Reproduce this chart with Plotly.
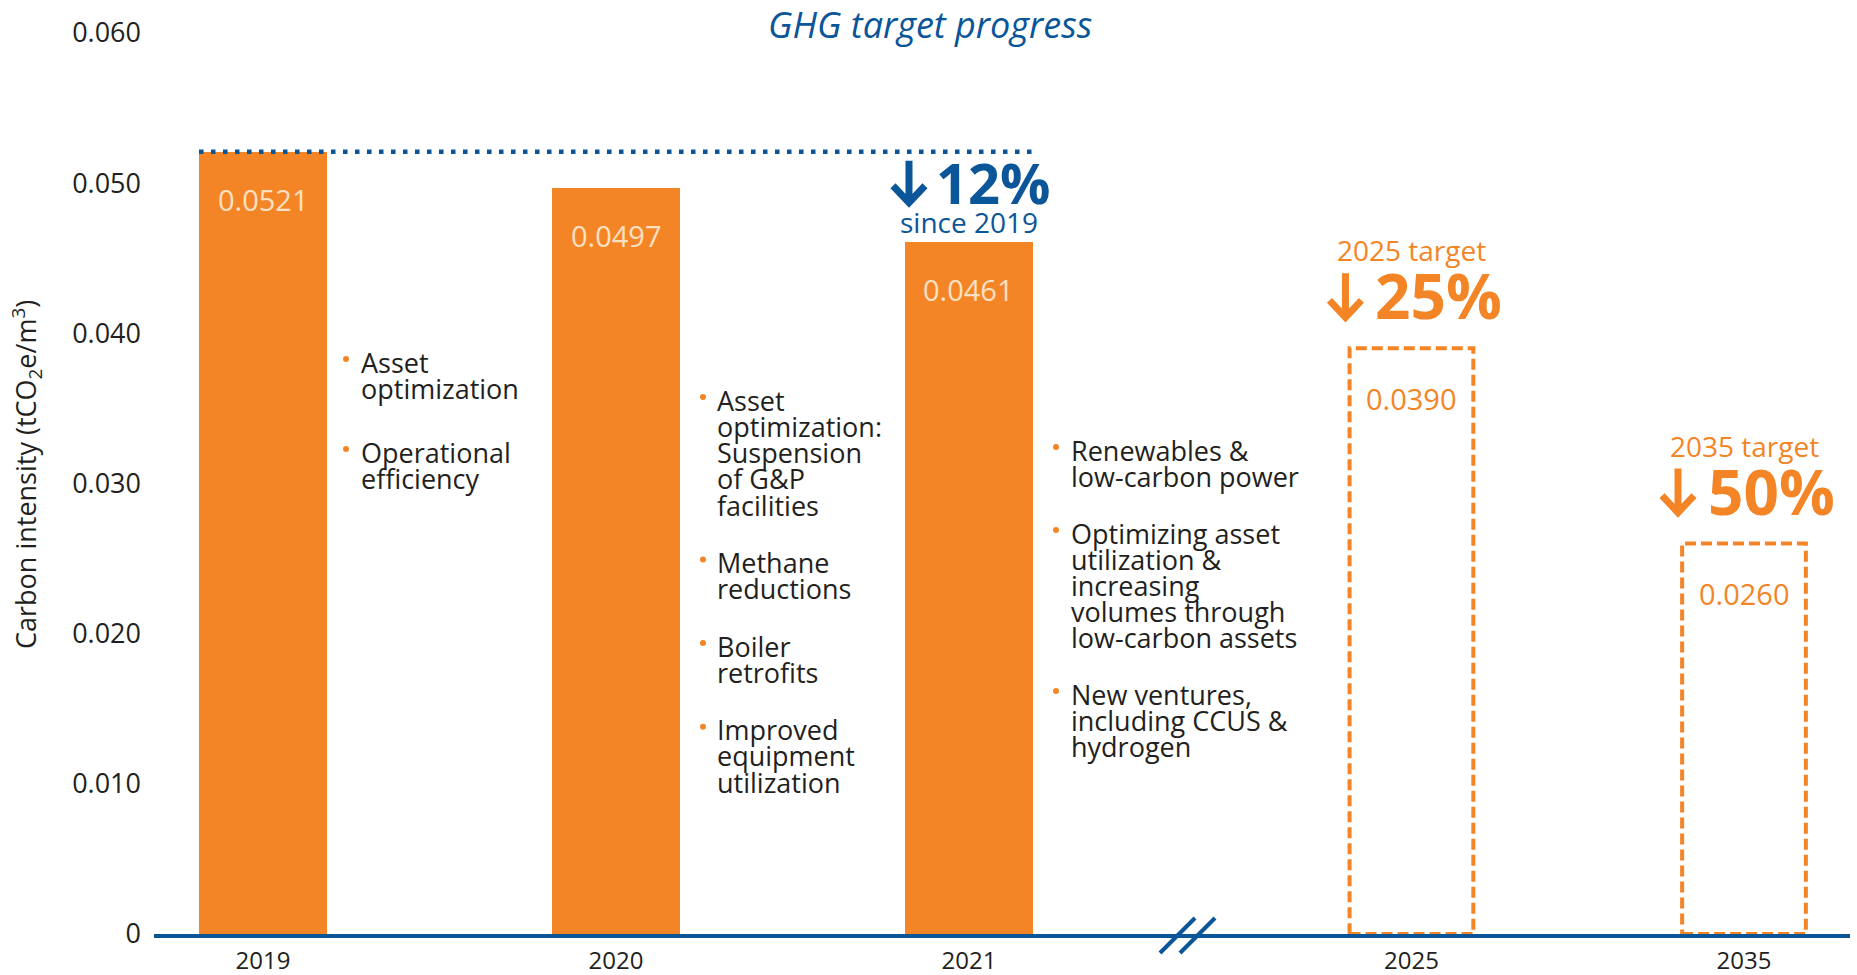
import plotly.graph_objects as go

# ---------------- data ----------------
actual_years = ["2019", "2020", "2021"]
actual_values = [0.0521, 0.0497, 0.0461]
target_years = ["2025", "2035"]
target_values = [0.0390, 0.0260]
baseline_value = 0.0521
y_tick_values = [0, 0.010, 0.020, 0.030, 0.040, 0.050, 0.060]
y_tick_labels = ["0", "0.010", "0.020", "0.030", "0.040", "0.050", "0.060"]
progress_label = "12%"
progress_note = "since 2019"
target_labels = ["2025 target", "2035 target"]
target_reductions = ["25%", "50%"]
bullets_2019 = [["Asset", "optimization"], ["Operational", "efficiency"]]
bullets_2020 = [["Asset", "optimization:", "Suspension", "of G&P", "facilities"],
                ["Methane", "reductions"],
                ["Boiler", "retrofits"],
                ["Improved", "equipment", "utilization"]]
bullets_future = [["Renewables &", "low-carbon power"],
                  ["Optimizing asset", "utilization &", "increasing", "volumes through", "low-carbon assets"],
                  ["New ventures,", "including CCUS &", "hydrogen"]]
title_text = "GHG target progress"
y_title = "Carbon intensity (tCO<sub>2</sub>e/m<sup>3</sup>)"

# ---------------- layout / style ----------------
W, H = 1857, 975
L, R, T, B = 154, 7, 33, 41
PW, PH = W - L - R, H - T - B
ORANGE = "#F38526"
BLUE = "#0B5599"
TEXT = "#231F20"
PEACH = "#FCE0C2"
FONT = "Open Sans"
X_POS = {"2019": 0.0, "2020": 1.0, "2021": 2.0, "2025": 3.2535, "2035": 4.1955}
BAR_W = 0.3626
X_RANGE = [-0.3088, 4.4958]


def px(x):
    return (x - L) / PW


def py(y):
    return (H - B - y) / PH


fig = go.Figure()
fig.add_trace(go.Bar(
    x=[X_POS[y] for y in actual_years], y=actual_values, width=BAR_W,
    marker=dict(color=ORANGE, line=dict(width=0)), hoverinfo="x+y", showlegend=False))

shapes = []
annotations = []

# target boxes (dashed outline)
for yr, v in zip(target_years, target_values):
    shapes.append(dict(type="rect", xref="x", yref="y",
                       x0=X_POS[yr] - BAR_W / 2 + 0.006, x1=X_POS[yr] + BAR_W / 2 - 0.006,
                       y0=0, y1=v, line=dict(color=ORANGE, width=4, dash="11px,5px"),
                       fillcolor="rgba(0,0,0,0)", layer="above"))

# baseline dotted line
shapes.append(dict(type="line", xref="x", yref="y",
                   x0=X_POS["2019"] - BAR_W / 2, x1=X_POS["2021"] + BAR_W / 2,
                   y0=baseline_value, y1=baseline_value,
                   line=dict(color=BLUE, width=4.5, dash="4.5px,7.5px")))

# axis break symbol
for dx in (0, 20):
    shapes.append(dict(type="line", xref="paper", yref="paper",
                       x0=px(1160 + dx), y0=py(953), x1=px(1195 + dx), y1=py(918),
                       line=dict(color=BLUE, width=4)))


def down_arrow(xval, yval, xoff, top, tip, color):
    path = (f"M{xoff},{top} L{xoff},{tip + 3} "
            f"M{xoff - 16},{tip + 17} L{xoff},{tip} L{xoff + 16},{tip + 17}")
    shapes.append(dict(type="path", xref="x", yref="y", xsizemode="pixel", ysizemode="pixel",
                       xanchor=xval, yanchor=yval, path=path,
                       line=dict(color=color, width=7)))


# value labels
for yr, v in zip(actual_years, actual_values):
    annotations.append(dict(x=X_POS[yr], y=v, xref="x", yref="y", yshift=-48,
                            text=f"{v:.4f}", showarrow=False,
                            font=dict(family=FONT, size=29, color=PEACH)))
for yr, v in zip(target_years, target_values):
    annotations.append(dict(x=X_POS[yr], y=v, xref="x", yref="y", yshift=-50,
                            text=f"{v:.4f}", showarrow=False,
                            font=dict(family=FONT, size=29, color=ORANGE)))

# progress annotation above 2021
x21, v21 = X_POS["2021"], actual_values[2]
annotations.append(dict(x=x21, y=v21, xref="x", yref="y", yshift=20,
                        text=progress_note, showarrow=False,
                        font=dict(family=FONT, size=28, color=BLUE)))
annotations.append(dict(x=x21, y=v21, xref="x", yref="y", yshift=60, xshift=-35,
                        xanchor="left", yanchor="middle",
                        text=f"<b>{progress_label}</b>", showarrow=False,
                        font=dict(family=FONT, size=56, color=BLUE)))
down_arrow(x21, v21, -60, 81, 39, BLUE)

# target annotations
for yr, v, lab, red in zip(target_years, target_values, target_labels, target_reductions):
    annotations.append(dict(x=X_POS[yr], y=v, xref="x", yref="y", yshift=98,
                            text=lab, showarrow=False,
                            font=dict(family=FONT, size=28, color=ORANGE)))
    annotations.append(dict(x=X_POS[yr], y=v, xref="x", yref="y", yshift=53, xshift=-38,
                            xanchor="left", yanchor="middle",
                            text=f"<b>{red}</b>", showarrow=False,
                            font=dict(family=FONT, size=62, color=ORANGE)))
    down_arrow(X_POS[yr], v, -66, 75, 31, ORANGE)


def add_block(paras, text_x, bullet_x, first_y, line_h, gap):
    y = first_y
    for para in paras:
        shapes.append(dict(type="circle", xref="paper", yref="paper",
                           xsizemode="pixel", ysizemode="pixel",
                           xanchor=px(bullet_x), yanchor=py(y - 3),
                           x0=-3, x1=3, y0=-3, y1=3,
                           fillcolor=ORANGE, line=dict(width=0)))
        for i, line in enumerate(para):
            annotations.append(dict(x=px(text_x), y=py(y), xref="paper", yref="paper",
                                    text=line, showarrow=False, xanchor="left", yanchor="middle",
                                    font=dict(family=FONT, size=27, color=TEXT)))
            if i < len(para) - 1:
                y += line_h
        y += line_h + gap


add_block(bullets_2019, 359, 346, 362, 26, 38)
add_block(bullets_2020, 715, 703, 400, 26.3, 31)
add_block(bullets_future, 1069, 1056, 450, 26, 31)

# title
annotations.append(dict(x=px(930), y=py(24), xref="paper", yref="paper",
                        xanchor="center", yanchor="middle",
                        text=f"<i>{title_text}</i>", showarrow=False,
                        font=dict(family=FONT, size=36, color=BLUE)))
# y-axis title
annotations.append(dict(x=px(26), y=py(475), xref="paper", yref="paper",
                        xanchor="center", yanchor="middle",
                        text=y_title, textangle=-90, showarrow=False,
                        font=dict(family=FONT, size=27, color=TEXT)))

all_years = actual_years + target_years
fig.update_layout(
    width=W, height=H,
    margin=dict(l=L, r=R, t=T, b=B, autoexpand=False),
    plot_bgcolor="white", paper_bgcolor="white",
    shapes=shapes, annotations=annotations,
    xaxis=dict(range=X_RANGE, tickvals=[X_POS[y] for y in all_years], ticktext=all_years,
               showgrid=False, zeroline=False, showline=True, linecolor=BLUE, linewidth=4,
               ticks="", ticklabelstandoff=2,
               tickfont=dict(family=FONT, size=24, color=TEXT), fixedrange=True),
    yaxis=dict(range=[0, 0.06], tickvals=y_tick_values, ticktext=y_tick_labels,
               showgrid=False, zeroline=False, showline=False, ticks="",
               ticklabelstandoff=12,
               tickfont=dict(family=FONT, size=27, color=TEXT), fixedrange=True),
    bargap=0,
)

fig.write_html("out.html", config={"displayModeBar": False},
               post_script="document.body.style.margin='0';")
